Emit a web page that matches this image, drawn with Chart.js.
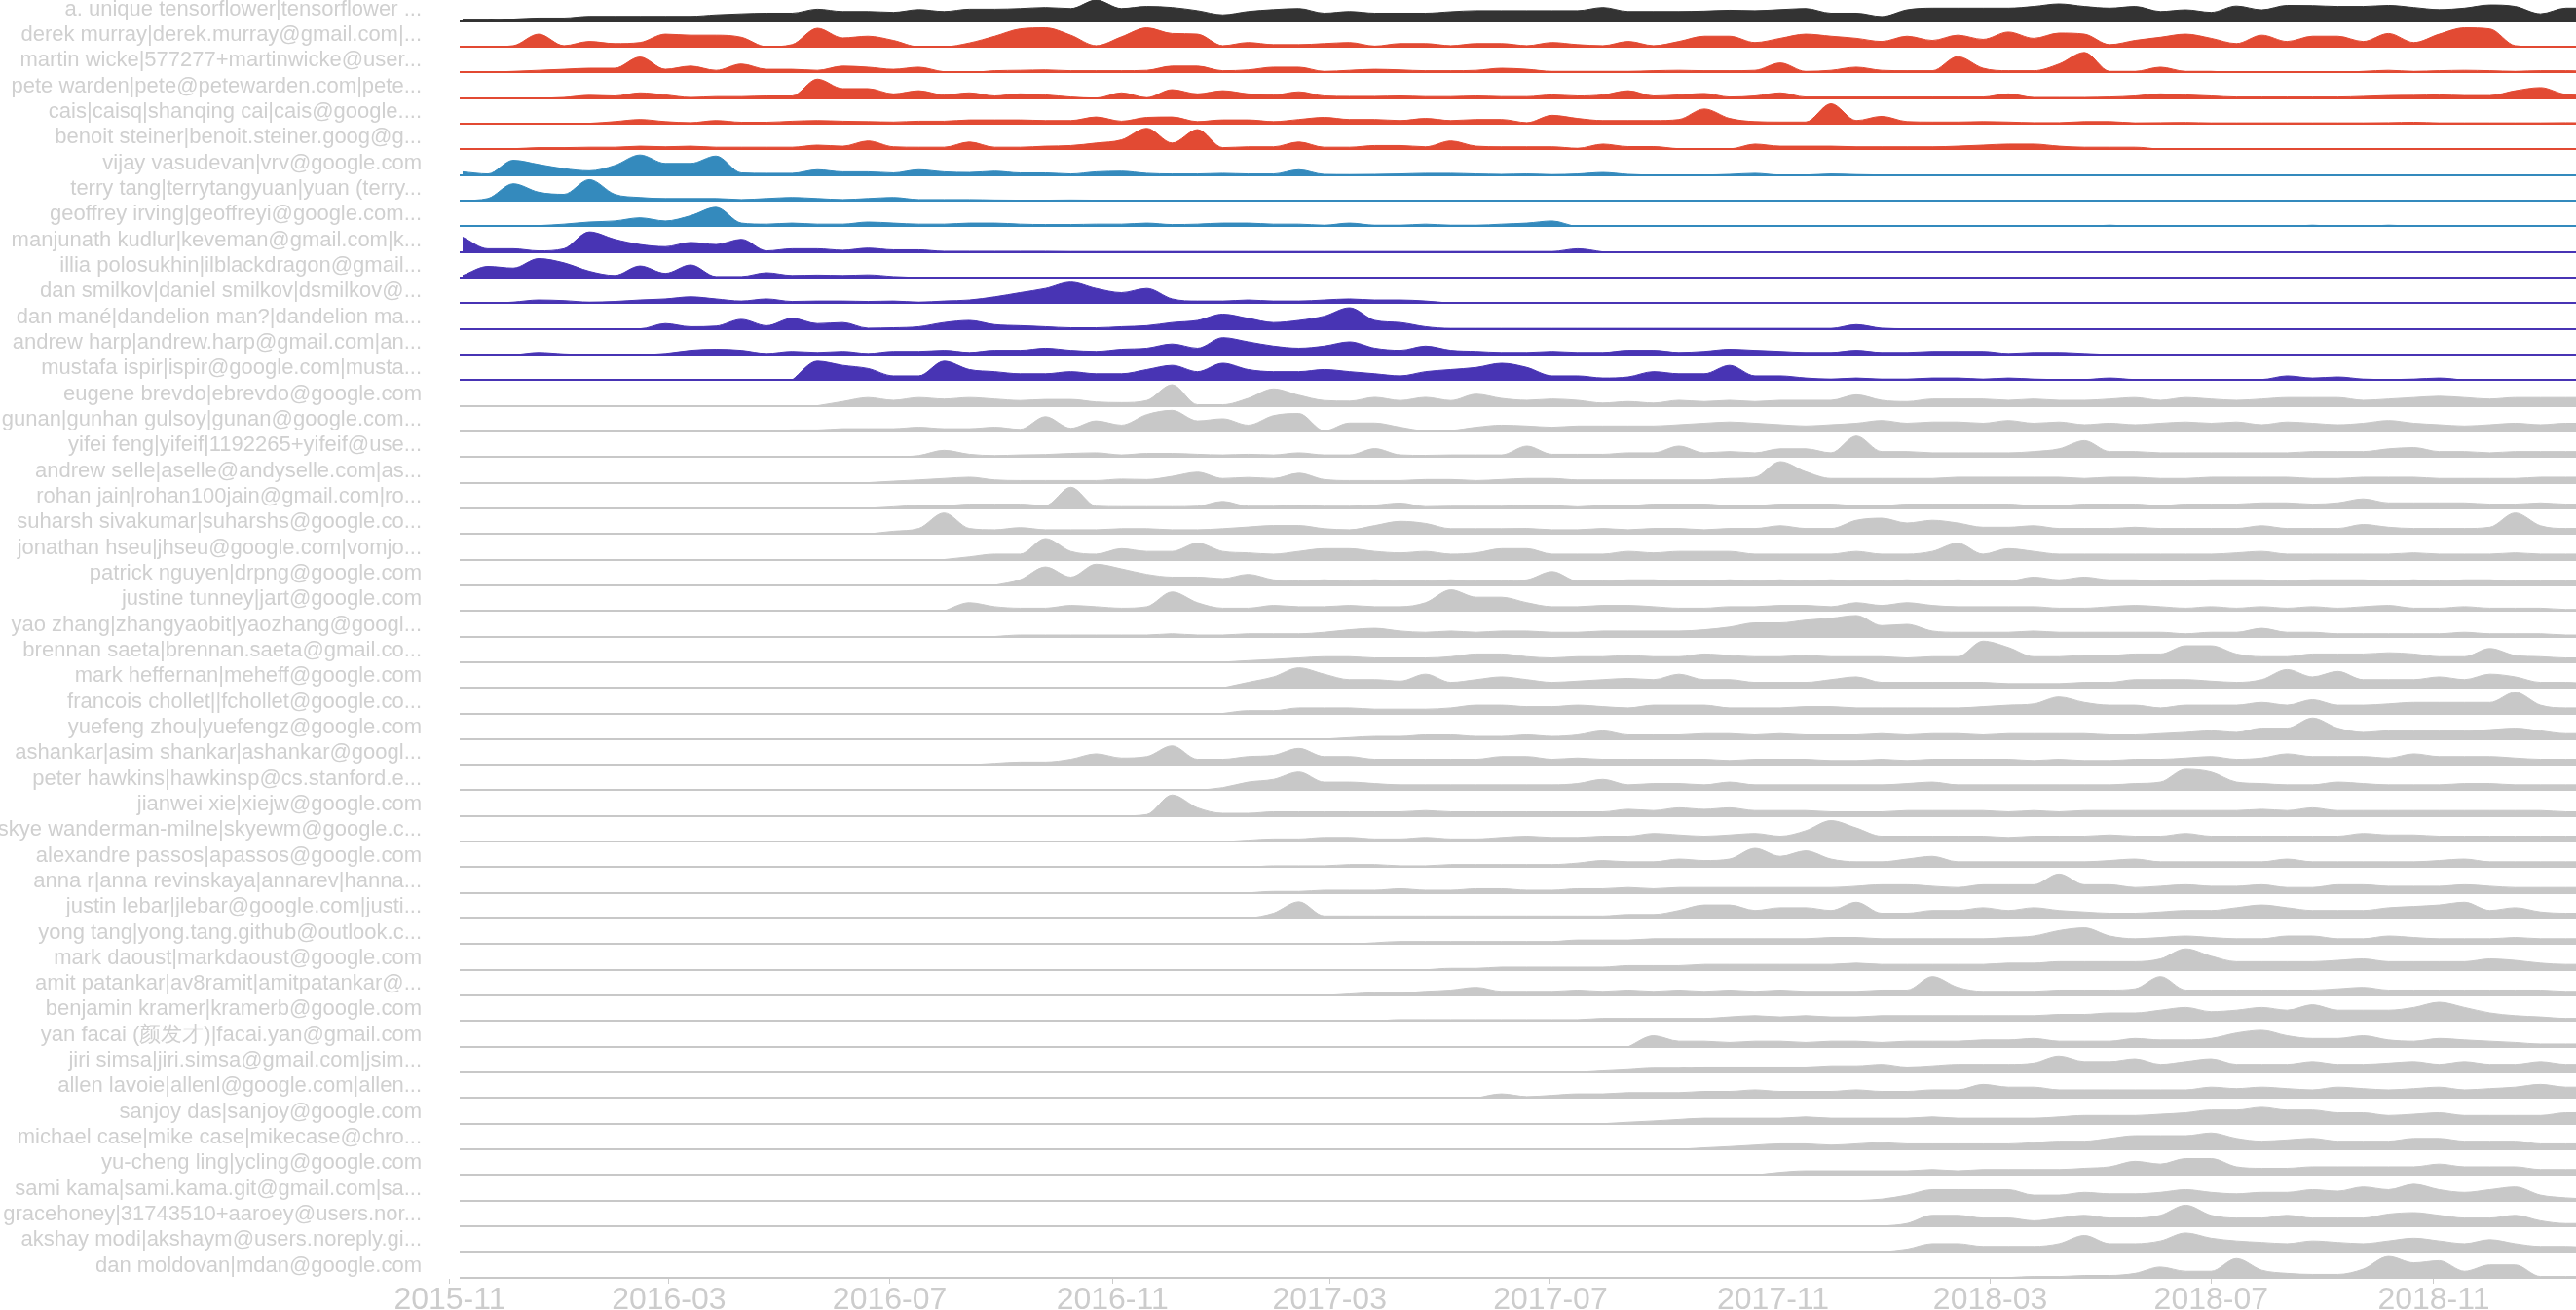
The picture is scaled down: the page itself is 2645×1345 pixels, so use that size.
<!DOCTYPE html>
<html><head><meta charset="utf-8">
<script src="https://cdn.jsdelivr.net/npm/chart.js@4.4.0/dist/chart.umd.min.js"></script>
<style>html,body{margin:0;padding:0;background:#fff;overflow:hidden}canvas{display:block}</style>
</head><body>
<canvas id="c" width="2645" height="1345"></canvas>
<script>
const rowNames = [
"a. unique tensorflower|tensorflower ...","derek murray|derek.murray@gmail.com|...","martin wicke|577277+martinwicke@user...","pete warden|pete@petewarden.com|pete...","cais|caisq|shanqing cai|cais@google....","benoit steiner|benoit.steiner.goog@g...",
"vijay vasudevan|vrv@google.com","terry tang|terrytangyuan|yuan (terry...","geoffrey irving|geoffreyi@google.com...",
"manjunath kudlur|keveman@gmail.com|k...","illia polosukhin|ilblackdragon@gmail...","dan smilkov|daniel smilkov|dsmilkov@...","dan mané|dandelion man?|dandelion ma...","andrew harp|andrew.harp@gmail.com|an...","mustafa ispir|ispir@google.com|musta...",
"eugene brevdo|ebrevdo@google.com","gunan|gunhan gulsoy|gunan@google.com...","yifei feng|yifeif|1192265+yifeif@use...","andrew selle|aselle@andyselle.com|as...","rohan jain|rohan100jain@gmail.com|ro...","suharsh sivakumar|suharshs@google.co...","jonathan hseu|jhseu@google.com|vomjo...","patrick nguyen|drpng@google.com","justine tunney|jart@google.com","yao zhang|zhangyaobit|yaozhang@googl...","brennan saeta|brennan.saeta@gmail.co...","mark heffernan|meheff@google.com","francois chollet||fchollet@google.co...","yuefeng zhou|yuefengz@google.com","ashankar|asim shankar|ashankar@googl...","peter hawkins|hawkinsp@cs.stanford.e...","jianwei xie|xiejw@google.com","skye wanderman-milne|skyewm@google.c...","alexandre passos|apassos@google.com","anna r|anna revinskaya|annarev|hanna...","justin lebar|jlebar@google.com|justi...","yong tang|yong.tang.github@outlook.c...","mark daoust|markdaoust@google.com","amit patankar|av8ramit|amitpatankar@...","benjamin kramer|kramerb@google.com","yan facai (颜发才)|facai.yan@gmail.com","jiri simsa|jiri.simsa@gmail.com|jsim...","allen lavoie|allenl@google.com|allen...","sanjoy das|sanjoy@google.com","michael case|mike case|mikecase@chro...","yu-cheng ling|ycling@google.com","sami kama|sami.kama.git@gmail.com|sa...","gracehoney|31743510+aaroey@users.nor...","akshay modi|akshaym@users.noreply.gi...","dan moldovan|mdan@google.com"
];
const BLACK='#333333', RED='#e24a33', BLUE='#348abd', PURPLE='#4834b4', GRAY='#c8c8c8';
const rowColors = [BLACK,RED,RED,RED,RED,RED,BLUE,BLUE,BLUE,PURPLE,PURPLE,PURPLE,PURPLE,PURPLE,PURPLE].concat(new Array(35).fill(GRAY));
const tickLabels = ['2015-11','2016-03','2016-07','2016-11','2017-03','2017-07','2017-11','2018-03','2018-07','2018-11'];
const sampleStart = '2015-11-08';
const sampleStepDays = 14;
// first sample index (in 14-day steps) of each row's array
const rowStart = [0,0,0,0,0,0,0,0,0,0,0,0,0,0,13,14,12,17,16,16,16,19,21,19,21,30,30,30,34,20,29,26,30,31,31,31,35,38,34,36,46,44,40,45,48,51,55,56,56,61];

const r00 = [0.5,0.5,1,1.5,1.5,2.3,2.3,2.3,2.3,2.3,3,3.5,3.8,3.8,5.7,4.6,4.6,4.2,5.5,4.6,5.7,5.7,6,6.5,6,10,6,7,6.5,5,3,4.6,5.5,6,3.8,4.6,3.8,3.8,3.8,4.5,5,5,5,5,5,6.5,4.6,4.6,4.6,4.8,5.2,5,5.5,6,3.8,3.8,2.2,5.4,6.2,6.2,6.2,6.2,7,8.2,7,6.2,7,4.6,5.4,4.2,7.2,5.4,7.5,7.4,7,7,7.5,6.5,5.5,6.2,7.7,7,3.5,6.2,6.2];
const r01 = [0,0,0.5,6,0.5,2.5,1.5,2,6,5.5,5.5,4.5,0,1,8.8,4.2,5,3,0,0,1.8,5,8.5,9,5.5,0.5,4.7,9,6.3,6,0.5,2,1,1,1.5,2,0.3,1.5,1.5,0.5,1.5,1.5,0.5,2,1,0.5,2.5,0.5,2.5,5,5,2,4,6,5,4,2.5,5,3,5.5,3.5,7,4,6.5,6,1,3,4.5,6,4,1.5,5.5,2.5,5,5,2.5,6.3,2,6,9,8.5,0.5,0,0,0];
const r02 = [0.2,0.2,0.5,1,1.5,2,2,7.3,1.5,3,1,4,1.5,1.5,1,3,2.5,1.5,2.5,0.3,0,0.8,1,1.2,0.8,0.8,0.8,1,3,3,0.8,1.2,2.5,2.5,0.5,1,1.5,1.2,0.8,0.8,1,2,1.5,0.5,0.5,0.5,0.5,0.8,1,0.8,0.8,1,4.5,0.5,1,2.5,1,0.8,0.8,7.5,2,0.8,0.8,4,9.5,0.5,0.5,2.5,0.5,0.5,0,0,0,0,0,0.5,1,0.5,0.8,1,0.8,0.5,0.8,0.8,0.5];
const r03 = [0,0,0,0,0.3,1.3,1,2.5,1.5,0.3,0.7,0.7,1,1,9,4.5,4.5,2,3.5,1.5,2.5,1,2,1.5,0.5,0,2.5,0.2,4,2,3.5,2,1.5,3,1,0.8,0.8,1,0.7,0.7,1,0.7,0.7,1.5,1,1.5,3.5,1,1.5,2.2,0.5,1,2.5,0.5,0.5,0.5,0.5,0.5,0.5,0.5,0.5,2,0.3,0.3,0.3,0.5,1,2,1.5,1,0.5,0.5,0.5,0.5,0.5,0.8,1.2,1.3,1.5,1.2,1.2,3.5,5,1.8,1.5];
const r04 = [0,0,0,0,0,0.2,1,2,1,0.5,1.5,0.7,0.7,1.2,1.5,1.2,1,0.8,1.2,1.2,1.8,1.8,1.8,1.5,1.5,3.2,1.2,3,3.2,1,1.8,1.8,1,2,3,2,2,1.5,2.5,1.5,2,2,0.5,4,2.5,1.5,1.5,1.5,2,7,2.5,1,0.8,0.8,9.5,1.5,3.5,1,0.8,0.8,1,0.8,0.5,0.5,1,1,0.4,0.5,0.6,0.4,0.4,0.4,0.4,0.4,0.4,0.4,0.5,0.7,0.4,0.4,0.4,0.4,0.4,0.5,0.4];
const r05 = [0,0.3,0.3,0.8,0.8,1,1,1.5,1.2,1.5,1,1,1,1,2,1.5,4,1.2,1,1,3.5,1,1,1.5,1.8,3,4.5,10,3,9.4,0.8,1.2,1.2,3.5,1,1,1.8,1.8,1.2,4,1.5,1.2,1.2,1.2,0.5,2.5,1.3,1.3,0.3,0.2,0.2,2.5,1.5,1.5,1.5,1.2,1.2,1.2,1.2,1.5,2,2.5,2.5,1.5,1,1,1,0];
const r06 = [1.5,0.5,7,5,3,2,4.5,9.5,5.5,5.5,9,1,0.8,0.8,2.5,1.5,1.5,1,2.5,1.5,1.2,1.8,1,1,0.5,1.5,1.8,0.8,0.5,0.5,0.8,0.5,0.5,2.5,0.3,0.2,0.3,0.5,0.8,0.8,0.5,0.3,0.5,0.2,0.5,1.2,0.3,0,0,0,0.3,0.8,0,0,0.5,0.2,0];
const r07 = [0,1,8,4,3,10,3,1.5,1,1,1,0.5,1,1.5,1,0.5,1,1.5,0.5,0.5,0.5,0.3,0.2,0.2,0.3,0.2,0.2,0.2,0.2,0.2,0.2,0.2,0.2,0];
const r08 = [0,0,0,0.3,1,2,2.5,4,2.5,5,9,1.5,1,1.5,1,1,2,1.5,1,1,1.5,1.5,1,0.8,0.8,1,1,1.5,0.8,1,1.5,1.5,1,1,0.5,1.5,0.5,0.5,1,0.5,0.5,1,1.5,2.5,0,0,0,0,0,0,0,0,0,0,0,0,0,0,0,0,0,0,0,0,0,0.5,0,0,0,0,0,0,0,0.5,0,0,0.5,0];
const r09 = [7,1.5,1.5,0.5,1.5,9.5,6,3.5,2.5,4.5,3.5,6,0.5,1.5,1.5,0.8,1.8,1,1,0.3,0.3,0.3,0.3,0.3,0.2,0.2,0.2,0.2,0.2,0.2,0.2,0.2,0.2,0.2,0.2,0.2,0.2,0.2,0.2,0.2,0.2,0.2,0.2,0.2,1.5,0];
const r10 = [1,5.3,4.5,9,7,3,1,5.5,2,6,0.5,0.5,2.3,1,1.2,1,1.3,0.5,0];
const r11 = [0,0,0.5,1.5,1.2,0.5,0.8,1.5,2,3,2,1,2,0.8,1,1,0.8,1,0.5,1,1.5,3,5,7,10,7,5,7,2,1,1,1.5,1,1,1.5,2,1.5,1.5,1,0];
const r12 = [0,0,0,0,0,0,0,0,2.5,1,1.3,4.5,1.5,5,2.5,3,0.3,0.5,1,3,4,2,1.5,1,0.5,0.5,1,1.5,3,4,7,5,3,4,6,10,4,3,1,0.2,0.2,0.2,0.2,0.2,0.2,0.2,0.2,0.2,0.2,0.2,0.2,0.2,0.2,0.2,0.2,2,0.3,0];
const r13 = [0,0,0,1,0.3,0,0,0,0.5,2,2.5,2,0.5,1.5,1,1.5,0.5,1.5,1.5,2,1,2,2,3,2,1.5,2.5,3,5,3,8,6,4,3,4,6,3,2,4,2,1.5,1,1,1.5,1,1,2,2,1,1.5,2.5,2,1.5,1,1,2,1,1,1.5,1.5,1.5,0.5,1,1,0.5,0];
const r14 = [0,9,7,5.5,2,2,9,5,4,3,3,4,3,3,5,7,4,8,5,4,4,5,4,3,2,4,5,6,8,6,2,2,1,1.5,4,3,3,7,2,2,1,0.5,1,0.5,0.5,1,1,0.5,1,0.5,0.3,0.3,1,0.3,0.3,0.3,0.3,0.3,0.3,2,1,1.5,0.5,0.3,0.5,1,0];
const r15 = [0,2,3.9,2.6,3.9,3.2,3.9,3.2,2.5,3,3,1.8,1.5,2.5,10,0.5,0.5,3.5,8,5,2.5,2.2,4,2.5,4,2.5,5.5,3.5,2.6,3.2,2.6,1.3,2,1.3,2.6,2,2.6,2,2.6,2.6,2.6,5.2,2.6,2,3.2,3.2,3.2,2.6,3.2,2.6,2.6,3.2,3.9,2.6,3.9,3.2,2.6,3.2,3.9,3.9,3.9,2.6,3.2,3.9,4.5,3.9,3.2,3.9,3.9,3.9,3.9];
const r16 = [0,0.7,0.7,1.3,1.3,1.3,2,1.3,1.3,2,1,7,1.5,5,3,8,10,5,6,3,7.5,8.5,0.3,4,4,2,0.3,0.5,2,3,2.6,2,2.6,2.6,2.6,2.6,3.2,3.9,4.5,3.9,3.2,2.6,3.2,3.9,5.2,3.9,4.5,4.5,3.9,5.2,3.9,4.5,3.2,3.9,3.2,3.9,4.5,3.9,4.5,3.2,4.5,3.9,3.2,3.9,5.2,3.9,3.2,2.6,3.2,3.9,3.2,3.9,3.9];
const r17 = [0,0.7,3.2,1.3,0.7,1,1.2,1.7,2,1,1.7,1.7,1.3,1,1.3,1,2,1,1,4,1,0.8,1,1,1,5.2,1.3,1.3,1.3,2,2,5.2,2,2.6,2,3.9,3.9,2,10,2.6,2.6,2,2,2,2,2.6,3.9,7.8,2.6,2.6,2,2,2,2,2,2,2.6,2.6,2.6,3.9,4.5,2.6,2.6,2,2.6,2.6,2.6,2.6];
const r18 = [0,0.7,1.3,2,2.6,1.3,1,1,1,1,1.7,1.5,3,5,2,2.5,2,4.5,1.5,1,1,1,1.5,1.5,1,1.5,2,2,1.3,1.3,1.3,1.3,1.3,1.3,2,2.6,10,5.2,2,2,2,2,2,2.6,2.6,2.6,2.6,2.6,2,2.6,2.6,2,2,2.6,2.6,2.6,2.6,2,2,2.6,2.6,2.6,2,2,2,2,2.6,2.6,2.6];
const r19 = [0,0.7,1.3,1.3,2,2,2,1.3,10,1,0.8,0.8,0.8,1,3.3,1,1,1.3,1,1,1.5,2.5,0.8,1,1,1,1.3,1.3,0.7,1.3,1.3,2,2,2,1.3,1.3,2,2,2,1.3,1.3,2,2,2,2,2,1.3,1.3,2,2,2,1.3,2,2,2,2.6,2.6,2,2.6,4.5,2.6,2.6,2.6,2.6,2,2,2.6,2,2];
const r20 = [0,1.3,2.6,10,2.6,2,3,2,2,2,2.5,2.5,2,2,2.5,3.3,4,4,2.5,2,4,6,5,2.5,2.5,2.5,2.6,2,2,2.6,2,2.6,2.6,2,2.6,2.6,3.9,2.6,2.6,6.5,7.5,5.2,6.5,5.2,3.2,3.2,3.9,2.6,2.6,2.6,3.2,2.6,2.6,2.6,2.6,3.9,2.6,2.6,2.6,4.5,3.2,2.6,2.6,2.6,3.2,10,3.9,2.6,2.6];
const r21 = [0,1.3,2.6,2.6,10,3.9,2.6,5.2,3.9,3.9,7.8,3.9,3.2,2.6,3.9,5.2,5.2,3.9,3.2,3.9,2.6,3.2,5.2,5.2,2.6,2.6,2.6,3.9,3.2,3.9,3.9,3.9,2.6,2.6,2.6,2.6,3.9,2.6,2.6,3.9,7.8,2.6,5.2,3.9,2.6,2.6,2.6,2.6,2.6,2.6,2.6,3.2,3.9,2.6,2.6,2.6,2.6,2.6,3.2,2.6,2.6,2.6,3.2,2.6,2.6,2.6];
const r22 = [0,2.6,8.7,3.9,10,7.8,5.2,3.9,3.9,3.2,5.2,2.6,2,2.6,2,2.6,2,2,2.6,2,2,2.6,6.5,2,2,2.6,2.6,2,2,2.6,2,2.6,2,2.6,2,2,2.6,2,2.6,2,2,3.9,2.6,3.9,2.6,2.6,2,2,2.6,2.6,2.6,2,2.6,2.6,2.6,2,2.6,2,2.6,2.6,2,2,2,2];
const r23 = [0,3.9,2,1.3,1.3,2.6,2,1.3,2,9,3.9,1.3,1.3,2.6,2,2,2.6,2,2,3.9,10,6.5,6.5,3.9,2,2,2.6,2.6,2,1.3,1.3,2,2,2.6,2.6,2,3.9,2.6,3.9,2.6,2,2,2,2,1.3,1.3,2,2.6,2,1.3,2,1.3,2,1.3,2,1.3,2,2.6,1.3,1.3,2,1.3,1.3,1.3,0.7,0.7];
const r24 = [0,0.7,0.7,0.7,0.7,0.7,0.7,1.3,0.7,0.7,1.3,1.3,1.3,2,3.2,3.9,2.6,2,2.6,2,2.6,2.6,2,2,2.6,2.6,2.6,2.6,3.2,4.5,6.5,6.5,7.8,8.7,10,5.2,5.8,2.6,2,2,2,2.6,2,2,2,2,2,1.3,2,2,3.9,2,2,1.3,1.3,1.3,1.3,1.3,2,1.3,1.3,1.3,0.7,0.7];
const r25 = [0,0.7,1.3,2,2.6,2.6,2,2,2,2.6,3.9,3.9,2.6,2,2.6,2.6,3.2,2.6,2.6,3.9,3.2,2.6,2.6,3.2,2.6,2.6,2.6,2,2.6,2.6,10,7,2.6,2.6,3.2,3.2,3.9,3.9,7.8,7.8,3.9,2.6,2.6,3.9,3.9,3.9,4.5,3.9,2.6,2.6,6.5,3.2,2.6,2,2];
const r26 = [0,2.6,5.2,9.5,6.5,3.9,3.9,3.2,6.5,2.6,3.9,5.2,3.9,2.6,3.2,3.9,4.5,3.9,6.5,3.9,3.9,2.6,2.6,2.6,3.9,5.2,2.6,2.6,2.6,2.6,2.6,2,2,2,2.6,2.6,3.9,3.9,3.9,3.2,2.6,3.9,8.7,5.2,7.8,3.9,3.9,3.9,5.2,3.9,6.5,5.2,2.6,2.6,2];
const r27 = [0,1.3,1.3,2.6,2.6,2.6,2,2,2,2.6,3.9,3.9,3.2,3.2,3.9,3.2,2.6,3.9,3.9,3.9,2.6,2.6,2.6,3.2,3.2,2.6,2.6,2.6,2.6,2.6,3.2,3.9,4.5,7.8,5.2,3.9,3.9,2.6,3.9,3.9,3.9,5.2,3.9,6.5,3.9,3.9,4.5,5.2,5.2,5.2,5.2,10,3.9,2.6,2.6];
const r28 = [0,0.7,1.3,1.3,2,2,1.3,1.3,2,1.3,2,3.9,2,2,2,2.6,2.6,2,2.6,2,2,2,2.6,2,2.6,2.6,2,2.6,2.6,2.6,2.6,2,2,2.6,3.2,3.9,3.2,5.2,5.2,10,5.2,3.2,3.9,3.9,3.9,3.9,4.5,5.2,3.9,2.6,2.6];
const r29 = [0,0.7,1.3,1.3,2.6,5.2,3.2,3.9,9,2.6,2.6,3.9,4.5,7.8,3.9,3.9,2.6,2.6,2.6,2.6,2.6,3.9,3.9,2.6,3.2,2.6,2.6,2.6,2.6,2.6,2,2.6,2.6,2.6,2,2,2.6,2,2.6,2.6,2.6,2.6,2,2.6,2,2,2.6,2.6,3.2,3.9,2.6,3.2,5.2,3.9,3.9,3.9,3.2,5.2,3.9,3.9,3.9,3.2,2.6,2.6,2.6];
const r30 = [0,1.3,3.9,5.2,8.7,3.9,3.9,3.2,2.6,2.6,2.6,2.6,2.6,2.6,2.6,3.2,5.2,2.6,3.2,3.2,2.6,3.9,2.6,2.6,2.6,2.6,2.6,2.6,3.2,3.9,2.6,2.6,2.6,2.6,2.6,2.6,2.6,3.2,3.9,10,8.7,3.9,3.2,2.6,2.6,3.9,3.2,2.6,2.6,2.6,3.2,3.2,2.6,2.6,2.6,2.6];
const r31 = [0,0.7,10,3.9,1.3,1.3,2,2,2,2,2,2,2.6,2,2,2,2,2,2,2,3.2,2.6,3.9,3.2,3.9,2.6,2.6,2.6,2,2,2,2.6,2.6,2.6,2.6,2,2.6,2,2.6,2.6,2.6,2.6,2.6,2.6,2.6,3.2,2.6,3.9,2.6,2.6,2.6,2.6,2.6,2.6,2.6,2.6,2.6,2,2];
const r32 = [0,0.7,1.3,1.3,2,2,1.3,1.3,2,1.3,1.3,2,2.6,2,2,2.6,2.6,3.9,3.2,2.6,3.2,3.9,2.6,5.2,10,6.5,2.6,2.6,2.6,2.6,2.6,2,2.6,2.6,2.6,3.2,2.6,2.6,3.9,2.6,2.6,2.6,2.6,2.6,2.6,3.9,3.2,3.2,2.6,2.6,2.6,2.6,2.6,2.6,2.6];
const r33 = [0,0.7,0.7,0.7,1.3,1.3,0.7,0.7,1.3,1.3,1.3,1.3,1.3,2,3.2,2.6,2.6,3.9,3.2,3.9,9,5.2,7.8,3.9,2.6,2.6,3.9,5.2,2.6,2.6,2.6,2.6,2.6,2.6,3.2,3.9,2.6,2.6,2.6,2.6,2.6,3.9,2.6,2.6,2.6,2.6,2.6,3.2,3.9,2.6,2.6,2.6,2.6,2.6];
const r34 = [0,0.7,0.7,1.3,1.3,1.3,2,1.3,1.3,2,2,1.3,1.3,2,2,2.6,2,2.6,2.6,2.6,2.6,2.6,2.6,2.6,3.2,3.9,3.9,3.2,2.6,3.9,3.9,3.9,9,3.9,3.9,2.6,3.2,3.9,3.2,3.2,3.9,2.6,2.6,3.9,3.9,3.2,3.2,3.2,3.9,3.2,2.6,2.6,2.6,2.6];
const r35 = [0,2.6,8,1.3,1.3,1.3,1.3,1.3,1.3,1.3,1.3,1.3,1.3,1.3,1.3,2,2,3.9,6.5,6.5,3.9,5.2,5.2,3.9,7.8,2.6,2.6,3.9,3.9,5.2,3.9,5.2,3.9,3.2,2.6,2.6,3.2,3.9,3.9,5.2,6.5,5.2,3.9,3.9,3.9,5.2,5.8,6.5,7.8,3.9,5.2,3.2,2.6,2.6];
const r36 = [0,0.7,1.3,1.3,1.3,1.3,1.3,1.3,1.3,2,2,2,2.6,2.6,2.6,2.6,2.6,2.6,2.6,3.2,3.2,2.6,2.6,2.6,2.6,2.6,3.2,3.9,6.5,7.8,3.9,2.6,3.2,3.9,3.2,2.6,2.6,3.9,3.9,2.6,2.6,3.9,3.2,2.6,2.6,2.6,3.2,2.6,2.6,2.6];
const r37 = [0,0.7,0.7,1.3,1.3,1.3,1.3,1.3,2,2,2,2.6,2.6,2.6,2.6,2.6,2.6,3.2,2.6,2.6,2.6,2.6,2.6,3.2,3.2,3.9,3.9,3.9,3.9,5.2,10,6.5,3.9,3.9,3.9,3.9,4.5,5.2,3.9,3.9,3.9,3.9,5.2,4.5,3.2,2.6,2.6];
const r38 = [0,0.7,1.3,1.3,2,2.6,3.9,2,2,2,2.6,2,2.6,2,2.6,2,2.6,2,2.6,2,2,2,2.6,2.6,9,3.9,2,2,2,2.6,2.6,2.6,3.2,9,2.6,2.6,2.6,2.6,2.6,2.6,3.2,3.9,2.6,2.6,2.6,2.6,2.6,2.6,2.6,2,2];
const r39 = [0,0.7,0.7,0.7,0.7,0.7,0.7,0.7,0.7,1.3,1.3,1.3,1.3,1.3,2,2.6,2,2.6,2,2,2.6,2.6,2.6,2.6,2.6,2.6,2.6,3.2,3.2,3.9,3.9,5.2,6.5,4.5,5.2,6.5,5.2,7.8,5.2,5.2,5.2,6.5,9,6.5,3.9,2.6,2,1.3,1.3];
const r40 = [0,5.2,2.6,2.6,2,2.6,2.6,2,2.6,2.6,2,2.6,2.6,2.6,3.2,3.2,3.9,2.6,2.6,2.6,3.9,3.2,3.2,3.9,6.5,7.8,5.2,3.9,3.9,5.2,3.2,2.6,3.9,3.2,2.6,2,1.3,1.3,1.3];
const r41 = [0,0.7,1.3,2,2,2.6,2.6,2.6,2.6,2.6,3.2,3.2,3.9,2.6,3.2,3.9,3.9,3.9,4.5,7.8,5.2,5.2,6.5,3.9,5.2,6.5,3.9,3.9,3.9,5.2,3.9,3.9,4.5,5.2,3.9,5.2,3.9,3.9,5.2,3.9,3.9];
const r42 = [0,2,0.7,1.3,2,2,2.6,2.6,2.6,3.2,3.2,3.9,3.2,3.2,3.2,3.9,3.2,3.2,3.9,3.9,6.5,5.2,5.2,3.9,3.9,3.9,3.9,3.9,3.9,5.2,4.5,5.2,4.5,3.9,5.2,4.5,3.9,4.5,5.2,3.9,4.5,5.2,6.5,5.2,5.2];
const r43 = [0,0.7,1.3,2,2.6,2.6,2.6,2.6,3.2,2.6,2.6,2.6,2.6,3.2,2.6,2.6,2.6,2.6,3.2,3.9,3.9,3.9,4.5,5.2,6.5,6.5,7.8,6.5,6.5,5.2,5.2,3.9,4.5,5.2,3.9,3.9,3.9,3.9,5.2,5.2];
const r44 = [0,0.7,1.3,2,2.6,2.6,2,2.6,3.2,2.6,2.6,2.6,2.6,2.6,3.2,3.9,3.9,5.2,6.5,6.5,6.5,7.8,5.2,3.9,4.5,5.2,3.9,3.9,3.9,5.2,5.2,3.9,3.9,3.9,2.6,2.6,2.6];
const r45 = [0,1.3,2,2,2,2,2,2.6,2,2.6,2.6,2.6,2.6,3.2,3.9,6.5,5.2,7.8,7.8,3.9,3.2,3.2,3.9,3.9,3.9,3.9,3.9,5.2,3.9,3.9,3.9,2.6,2.6,2.6];
const r46 = [0,0.7,2.6,5.2,5.2,5.2,5.2,2.6,2.6,3.9,3.2,3.2,3.9,5.2,3.9,3.2,3.9,3.9,5.2,4.5,6.5,5.2,7.8,5.2,3.9,5.2,6.5,2.6,1.3,0.7];
const r47 = [0,1.3,5.2,5.2,3.9,3.9,2.6,3.9,5.2,3.9,3.9,5.2,10,5.2,3.9,3.9,5.2,3.9,3.9,3.9,5.8,6.5,5.2,3.9,3.9,5.2,2.6,1.3,1.3];
const r48 = [0,1.3,3.9,3.9,2.6,2.6,2.6,3.9,7.8,3.9,3.9,5.2,9,6.5,5.2,4.5,3.9,5.2,4.5,3.9,5.2,6.5,5.2,3.9,5.8,3.9,2.6,2.6,2];
const r49 = [0,0.5,0.5,1,1,2,5,3,3,9,3.5,2,1.5,1.5,4,10,7,8,3,6,6,0.5,0.5,0.5];

const series = [r00,r01,r02,r03,r04,r05,r06,r07,r08,r09,r10,r11,r12,r13,r14,r15,r16,r17,r18,r19,r20,r21,r22,r23,r24,r25,r26,r27,r28,r29,r30,r31,r32,r33,r34,r35,r36,r37,r38,r39,r40,r41,r42,r43,r44,r45,r46,r47,r48,r49];

const EPOCH = Date.UTC(2015, 10, 1);
const dayOf = s => { const p = s.split('-').map(Number); return (Date.UTC(p[0], p[1] - 1, p[2] || 1) - EPOCH) / 86400000; };
const firstDay = dayOf(sampleStart);
const tickDays = tickLabels.map(dayOf);
const UNIT = 0.082; // ridge height per value step, in row units

const datasets = series.map((vals, i) => ({
  label: rowNames[i],
  data: vals.map((v, j) => ({ x: firstDay + sampleStepDays * (rowStart[i] + j), y: -i + v * UNIT })),
  fill: { value: -i },
  backgroundColor: rowColors[i],
  borderColor: rowColors[i],
  borderWidth: 1,
  pointRadius: 0,
  pointHoverRadius: 0,
  cubicInterpolationMode: 'monotone'
}));

new Chart(document.getElementById('c'), {
  type: 'line',
  data: { datasets },
  options: {
    responsive: false,
    animation: false,
    events: [],
    layout: { padding: 0 },
    plugins: { legend: { display: false }, tooltip: { enabled: false } },
    scales: {
      x: {
        type: 'linear', min: 5.4, max: 1174.6, bounds: 'data',
        afterBuildTicks: s => { s.ticks = tickDays.map(v => ({ value: v })); },
        afterFit: s => { s.height = 32; s.paddingLeft = 0; s.paddingRight = 0; },
        grid: { drawOnChartArea: false, drawTicks: true, tickLength: 5, color: '#cccccc', lineWidth: 1 },
        border: { display: false },
        ticks: { autoSkip: false, maxRotation: 0, padding: -2, color: '#cccccc',
          font: { family: '"Liberation Sans", Arial, sans-serif', size: 32 },
          callback: (v, i) => tickLabels[i] }
      },
      y: {
        type: 'linear', min: -49.05, max: 0.824, bounds: 'data',
        afterBuildTicks: s => { s.ticks = rowNames.map((_, i) => ({ value: -i })); },
        afterFit: s => { s.width = 472; s.paddingTop = 0; s.paddingBottom = 0; },
        grid: { drawTicks: false, lineWidth: 2,
          color: ctx => ctx.tick ? rowColors[Math.round(-ctx.tick.value)] : GRAY },
        border: { display: false },
        ticks: { autoSkip: false, padding: 39, labelOffset: -12, color: '#d0d0d0',
          font: { family: '"Liberation Sans", Arial, sans-serif', size: 22 },
          callback: v => rowNames[Math.round(-v)] }
      }
    }
  }
});
</script>
</body></html>
